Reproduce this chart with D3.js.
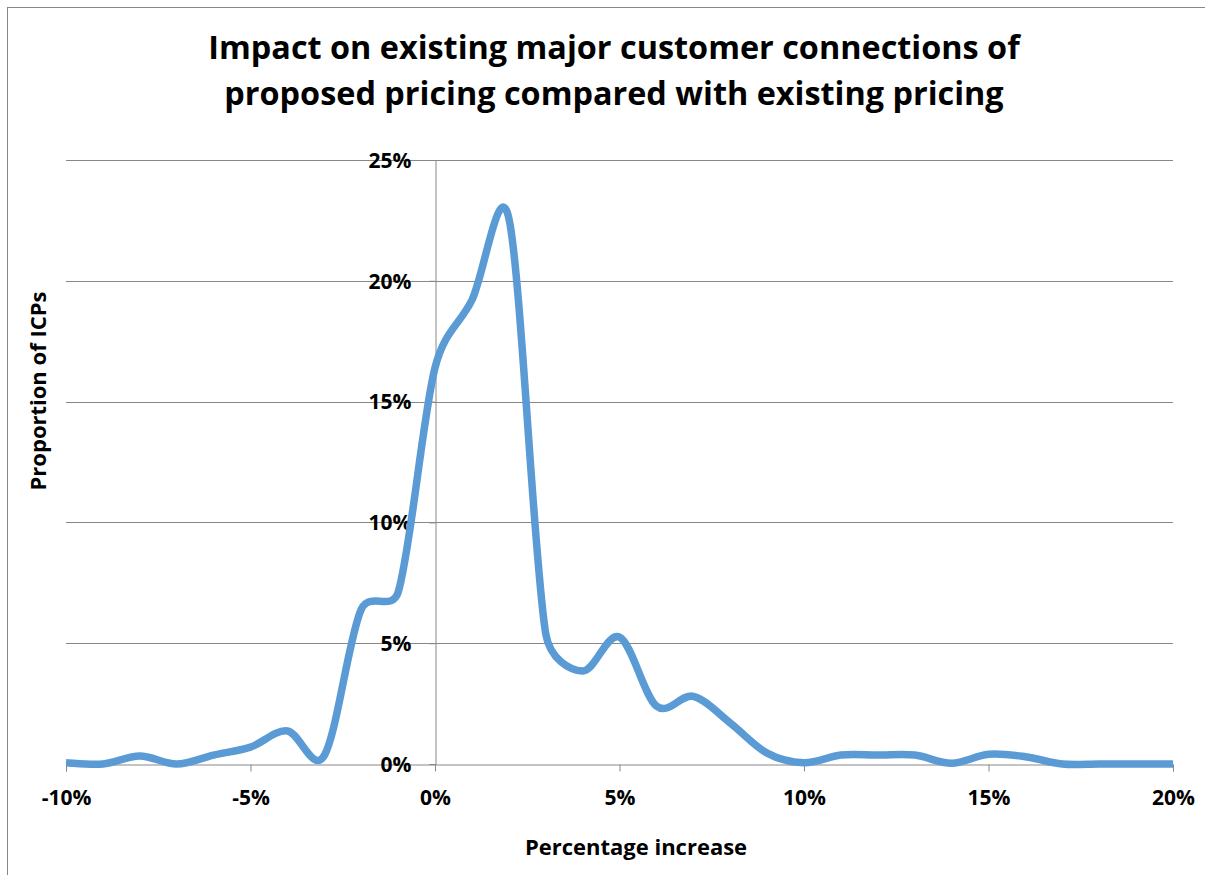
<!DOCTYPE html>
<html>
<head>
<meta charset="utf-8">
<script src="https://cdn.jsdelivr.net/npm/d3@7"></script>
<style>
  body { margin: 0; background: #fff; }
  svg text { font-family: "Open Sans", Lato, sans-serif; font-weight: bold; fill: #000; font-variant-ligatures: none; }
</style>
</head>
<body>
<div id="chart"></div>
<script>
// percentage increase (x) and proportion of ICPs (y), both in %
var pctIncrease = [-10, -9, -8, -7, -6, -5, -4, -3, -2, -1, 0, 1, 2, 3, 4, 5, 6, 7, 8, 9, 10,
  11, 12, 13, 14, 15, 16, 17, 18, 19, 20];
var proportion = [0.05, 0, 0.33, 0, 0.37, 0.7, 1.37, 0.35, 6.4, 7.1, 16.4, 19.2, 22.6, 5.4, 3.85, 5.25, 2.4, 2.8, 1.7, 0.45, 0.05,
  0.37, 0.37, 0.37, 0.03, 0.4, 0.3, 0, 0, 0, 0];
var xTicks = [-10, -5, 0, 5, 10, 15, 20];
var yTicks = [0, 5, 10, 15, 20, 25];
var titleLines = ["Impact on existing major customer connections of", "proposed pricing compared with existing pricing"];

var W = 1205, H = 875;
var plotLeft = 66, plotRight = 1173, plotTop = 160, plotBottom = 764;

var svg = d3.select("#chart").append("svg").attr("width", W).attr("height", H);

// chart border
svg.append("rect").attr("x", 7.5).attr("y", 7.5).attr("width", W + 10).attr("height", H + 10)
  .attr("fill", "none").attr("stroke", "#888").attr("stroke-width", 1);

var x = d3.scaleLinear().domain([-10, 20]).range([plotLeft, plotRight]);
var y = d3.scaleLinear().domain([0, 25]).range([plotBottom, plotTop]);

// gridlines
svg.append("g").selectAll("line").data(yTicks.slice(1)).enter().append("line")
  .attr("x1", plotLeft).attr("x2", plotRight)
  .attr("y1", function(d) { return Math.round(y(d)) + 0.5; })
  .attr("y2", function(d) { return Math.round(y(d)) + 0.5; })
  .attr("stroke", "#888").attr("stroke-width", 1);

// x axis at y=0
var xAxis = svg.append("g").attr("transform", "translate(0," + (plotBottom + 0.5) + ")")
  .call(d3.axisBottom(x).tickValues(xTicks).tickSize(7).tickFormat(function(d) { return d + "%"; }));
xAxis.select(".domain").attr("stroke", "#888");
xAxis.selectAll(".tick line").attr("stroke", "#888");
xAxis.selectAll(".tick text").attr("font-size", 21).attr("dy", 0).attr("y", 40);

// y axis crossing at x=0
var yAxis = svg.append("g").attr("transform", "translate(" + (Math.round(x(0)) + 0.5) + ",0)")
  .call(d3.axisLeft(y).tickValues(yTicks).tickSize(6).tickFormat(function(d) { return d + "%"; }));
yAxis.select(".domain").attr("stroke", "#888");
yAxis.selectAll(".tick line").attr("stroke", "#888");
yAxis.selectAll(".tick text").attr("font-size", 21).attr("x", -24).attr("dy", "0.35em");

// smoothed line like a spreadsheet "smooth line" scatter:
// bezier arms = 1/6 of neighbour chord, capped at half the segment length
function dist(a, b) { return Math.hypot(b[0] - a[0], b[1] - a[1]); }
function smoothPath(p) {
  var path = d3.path();
  path.moveTo(p[0][0], p[0][1]);
  for (var i = 0; i < p.length - 1; i++) {
    var p0 = p[i - 1] || p[i], p1 = p[i], p2 = p[i + 1], p3 = p[i + 2] || p[i + 1];
    var d12 = dist(p1, p2), d02 = dist(p0, p2), d13 = dist(p1, p3);
    var f0 = d02 / 6 < d12 / 2 ? 1 / 6 : d12 / d02 / 2;
    var f1 = d13 / 6 < d12 / 2 ? 1 / 6 : d12 / d13 / 2;
    path.bezierCurveTo(
      p1[0] + (p2[0] - p0[0]) * f0, p1[1] + (p2[1] - p0[1]) * f0,
      p2[0] - (p3[0] - p1[0]) * f1, p2[1] - (p3[1] - p1[1]) * f1,
      p2[0], p2[1]);
  }
  return path.toString();
}

var pts = pctIncrease.map(function(v, i) { return [x(v), y(proportion[i])]; });
svg.append("path").attr("d", smoothPath(pts))
  .attr("fill", "none").attr("stroke", "#5b9bd5").attr("stroke-width", 7.5)
  .attr("stroke-linejoin", "round").attr("stroke-linecap", "butt");

// title
svg.append("text").attr("x", 614).attr("y", 59).attr("text-anchor", "middle")
  .attr("font-size", 32.4).selectAll("tspan").data(titleLines).enter().append("tspan")
  .attr("x", 614).attr("dy", function(d, i) { return i === 0 ? 0 : 46; })
  .text(function(d) { return d; });

// axis titles
svg.append("text").attr("x", 636).attr("y", 855).attr("text-anchor", "middle")
  .attr("font-size", 22).text("Percentage increase");
svg.append("text").attr("transform", "translate(46,391) rotate(-90)").attr("text-anchor", "middle")
  .attr("font-size", 22).text("Proportion of ICPs");
</script>
</body>
</html>
